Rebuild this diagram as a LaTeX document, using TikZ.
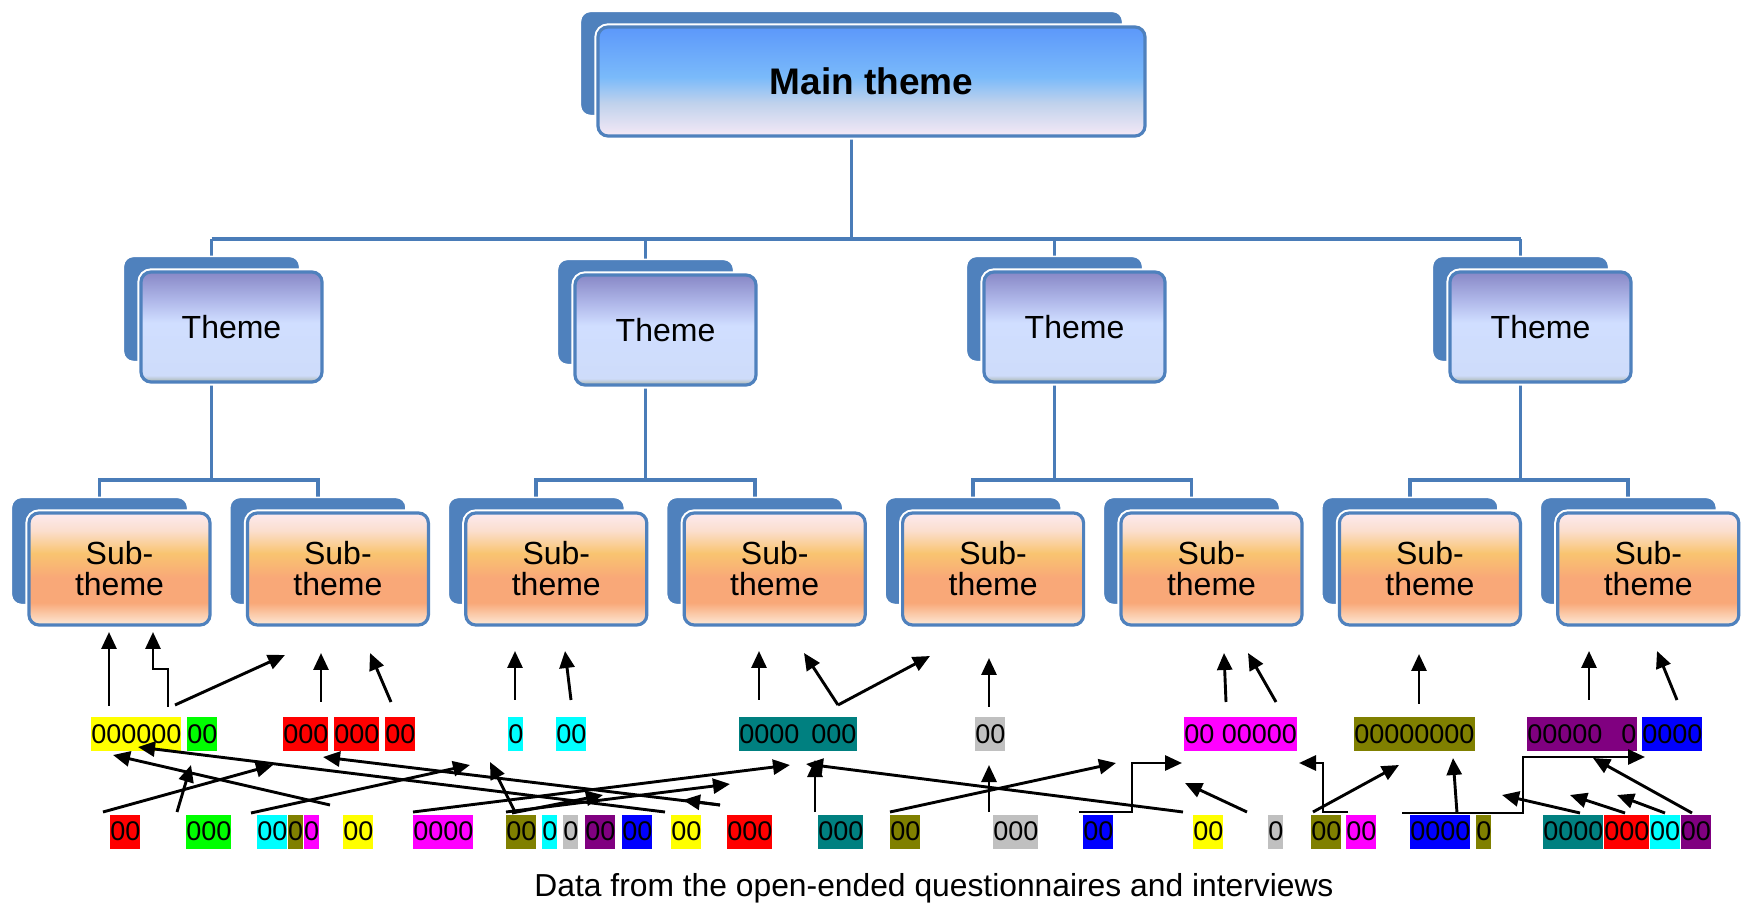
\documentclass[tikz,border=0pt]{standalone}
\usepackage{fontspec}
\setmainfont{Liberation Sans}
\usetikzlibrary{arrows.meta,positioning,backgrounds}

\definecolor{boxblue}{RGB}{79,129,189}
\definecolor{linkblue}{RGB}{74,124,184}
% shading colours
\definecolor{maintop}{RGB}{92,152,250}
\definecolor{mainmid}{RGB}{122,186,250}
\definecolor{mainlow}{RGB}{192,210,236}
\definecolor{mainbot}{RGB}{245,233,246}
\definecolor{themetop}{RGB}{136,136,198}
\definecolor{themeup}{RGB}{176,184,234}
\definecolor{thememid}{RGB}{208,222,255}
\definecolor{themelow}{RGB}{206,220,250}
\definecolor{themeedge}{RGB}{168,180,170}
\definecolor{subtop}{RGB}{252,234,240}
\definecolor{subup}{RGB}{251,222,205}
\definecolor{submid}{RGB}{249,196,112}
\definecolor{sublow}{RGB}{249,168,120}
\definecolor{subbot}{RGB}{253,234,216}
% code colours
\definecolor{codeyellow}{RGB}{255,255,0}
\definecolor{codegreen}{RGB}{0,255,0}
\definecolor{codered}{RGB}{255,0,0}
\definecolor{codecyan}{RGB}{0,255,255}
\definecolor{codeolive}{RGB}{128,128,0}
\definecolor{codemagenta}{RGB}{255,0,255}
\definecolor{codeteal}{RGB}{0,128,128}
\definecolor{codegray}{RGB}{192,192,192}
\definecolor{codepurple}{RGB}{128,0,128}
\definecolor{codeblue}{RGB}{0,0,255}

\pgfdeclareverticalshading{mainshade}{100bp}{color(0bp)=(mainbot); color(25bp)=(mainbot);
  color(40bp)=(mainlow); color(52bp)=(mainmid); color(75bp)=(maintop); color(100bp)=(maintop)}
\pgfdeclareverticalshading{themeshade}{100bp}{color(0bp)=(themeedge); color(25bp)=(themeedge);
  color(28bp)=(themelow); color(52bp)=(thememid); color(62bp)=(themeup); color(75bp)=(themetop);
  color(100bp)=(themetop)}
\pgfdeclareverticalshading{subshade}{100bp}{color(0bp)=(subbot); color(25bp)=(subbot);
  color(35bp)=(sublow); color(46bp)=(sublow); color(57bp)=(submid); color(67bp)=(subup);
  color(75bp)=(subtop); color(100bp)=(subtop)}

\tikzset{
  front/.style={draw=boxblue, line width=1.6pt, rounded corners=5pt,
    preaction={draw=white, line width=3.6pt}},
  mainbox/.style={front, shading=mainshade, minimum width=273.5pt, minimum height=54.5pt,
    font=\bfseries\fontsize{18.5}{18.5}\selectfont},
  themebox/.style={front, shading=themeshade, minimum width=90.5pt, minimum height=55pt,
    font=\fontsize{16}{16}\selectfont},
  subbox/.style={front, shading=subshade, minimum width=90.5pt, minimum height=56pt,
    align=center, font=\fontsize{16}{15.5}\selectfont},
  backbox/.style={fill=boxblue, draw=white, line width=0.8pt, rounded corners=5pt},
  link/.style={draw=linkblue, line width=1.9pt},
  code/.style={inner sep=0pt, minimum height=17pt, anchor=west,
    font=\fontsize{13.5}{13.5}\selectfont},
  flow/.style={-{Triangle[length=8.5pt,width=7.5pt]}, line width=1.45pt},
}

\begin{document}
\begin{tikzpicture}[x=0.5pt, y=-0.5pt]
   \useasboundingbox (0,0) rectangle (1741,908);

   % tree of themes
   \node[mainbox] (m) at (871.5,81.5) {Main theme};
   \node[themebox] (t1) at (231.5,327) {Theme};
   \node[themebox] (t2) at (665.5,330) {Theme};
   \node[themebox] (t3) at (1074.5,327) {Theme};
   \node[themebox] (t4) at (1540.5,327) {Theme};
   \foreach \i in {1,...,8}
      \node[subbox] (s\i) at ({119.5+218.4*(\i-1)},569) {Sub-\\theme};

   \begin{scope}[on background layer]
      \coordinate (bus) at (0,239);
      \coordinate (subbus) at (0,480);
      \foreach \n in {m,t1,t2,t3,t4,s1,s2,s3,s4,s5,s6,s7,s8}
         \coordinate (\n-b) at ([shift={(-20,-18)}]\n.center);
      \draw[link] (m-b) -- (m-b |- bus);
      \draw[link] (t1-b |- bus) -- (t4-b |- bus);
      \foreach \t/\a/\b in {1/1/2, 2/3/4, 3/5/6, 4/7/8} {
         \draw[link] (t\t-b) -- (t\t-b |- bus);
         \draw[link] (t\t-b) -- (t\t-b |- subbus);
         \draw[link] (s\a-b) |- (s\b-b |- subbus) -- (s\b-b);
      }
      \foreach \n in {m,t1,t2,t3,t4,s1,s2,s3,s4,s5,s6,s7,s8}
         \draw[backbox] ([shift={(-16,-14)}]\n.north west) rectangle ([shift={(-24,-22)}]\n.south east);
   \end{scope}

   % codes grouped under the sub-themes
   \node[code, fill=codeyellow] (k1) at (91,734) {000000};
   \node[code, fill=codegreen] (k2) at (187,734) {00};
   \node[code, fill=codered] (k3) at (283,734) {000};
   \node[code, fill=codered] (k4) at (334,734) {000};
   \node[code, fill=codered] (k5) at (385,734) {00};
   \node[code, fill=codecyan] (k6) at (508,734) {0};
   \node[code, fill=codecyan] (k7) at (556,734) {00};
   \node[code, fill=codeteal] (k8) at (739,734) {0000\hspace{6pt}000};
   \node[code, fill=codegray] (k9) at (975,734) {00};
   \node[code, fill=codemagenta] (k10) at (1184,734) {00 00000};
   \node[code, fill=codeolive] (k11) at (1354,734) {00000000};
   \node[code, fill=codepurple] (k12) at (1527,734) {00000\hspace{9.5pt}0};
   \node[code, fill=codeblue] (k13) at (1642,734) {0000};

   % codes from the data
   \foreach \n/\x/\c/\t in {d1/110/codered/00, d2/186/codegreen/000, d3/257/codecyan/00,
         d6/343/codeyellow/00, d7/413/codemagenta/0000, d8/506/codeolive/00,
         d9/542/codecyan/0, d10/563/codegray/0, d11/585/codepurple/00, d12/622/codeblue/00,
         d13/671/codeyellow/00, d14/727/codered/000, d15/818/codeteal/000,
         d16/890/codeolive/00, d17/993/codegray/000, d18/1083/codeblue/00,
         d19/1193/codeyellow/00, d20/1268/codegray/0, d21/1311/codeolive/00,
         d22/1346/codemagenta/00, d23/1410/codeblue/0000, d24/1476/codeolive/0,
         d25/1543/codeteal/0000}
      \node[code, fill=\c] (\n) at (\x,831.5) {\t};
   \node[code, fill=codeolive, right=0pt of d3] (d4) {0};
   \node[code, fill=codemagenta, right=0pt of d4] (d5) {0};
   \node[code, fill=codered, right=0pt of d25] (d26) {000};
   \node[code, fill=codecyan, right=0pt of d26] (d27) {00};
   \node[code, fill=codepurple, right=0pt of d27] (d28) {00};

   \node[font=\fontsize{15.9}{15.9}\selectfont] (cap) at (934,888)
      {Data from the open-ended questionnaires and interviews};

   % arrows from codes upwards
   \foreach \n/\sx/\sy/\ex/\ey in {a1/109/706/109/632, a3/175/705/285/655,
         a4/321/702/321/653, a5/391/702/370/653, a6/515/700/515/651, a7/571/700/565/651,
         a8/759/700/759/651, a9/838/705/804/653, a10/838/705/930/656, a11/989/707/989/658,
         a12/1226/702/1224/653, a13/1276/702/1248/653, a14/1419/704/1419/654,
         a15/1589/700/1589/651, a16/1677/700/1657/651,
         b1/103/812/273/765, b2/177/812/191/765, b3/330/805/113/755, b4/665/812/138/747,
         b5/720/805/323/757, b6/251/813/470/765, b7/515/812/490/762, b8/720/805/683/800,
         b9/413/812/790/765, b10/506/812/730/784, b11/512/813/603/795, b12/815/812/815/760,
         b13/1183/812/806/764, b14/989/812/989/765, b15/890/812/1116/763,
         b16/1247/812/1185/783, b17/1313/812/1399/765, b18/1457/813/1453/758,
         b19/1580/813/1502/795, b20/1625/813/1570/795, b21/1665/813/1617/795,
         b22/1692/813/1593/758} {
      \coordinate (\n-t) at (\sx,\sy);
      \coordinate (\n-h) at (\ex,\ey);
      \draw[flow] (\n-t) -- (\n-h);
   }

   % elbow arrows
   \coordinate (a2t) at (168,707);
   \coordinate (a2m) at (168,669);
   \coordinate (a2h) at (153,632);
   \draw[flow] (a2t) -- (a2m) -| (a2h);
   \coordinate (e1t) at (1079,812);
   \coordinate (e1m) at (1132,763);
   \coordinate (e1h) at (1182,763);
   \draw[flow] (e1t) -| (e1m) -- (e1h);
   \coordinate (e2t) at (1348,812);
   \coordinate (e2m) at (1323,763);
   \coordinate (e2h) at (1299,763);
   \draw[flow] (e2t) -| (e2m) -- (e2h);
   \coordinate (e3t) at (1402,813);
   \coordinate (e3m) at (1523,757);
   \coordinate (e3h) at (1645,757);
   \draw[flow] (e3t) -| (e3m) -- (e3h);
\end{tikzpicture}
\end{document}
